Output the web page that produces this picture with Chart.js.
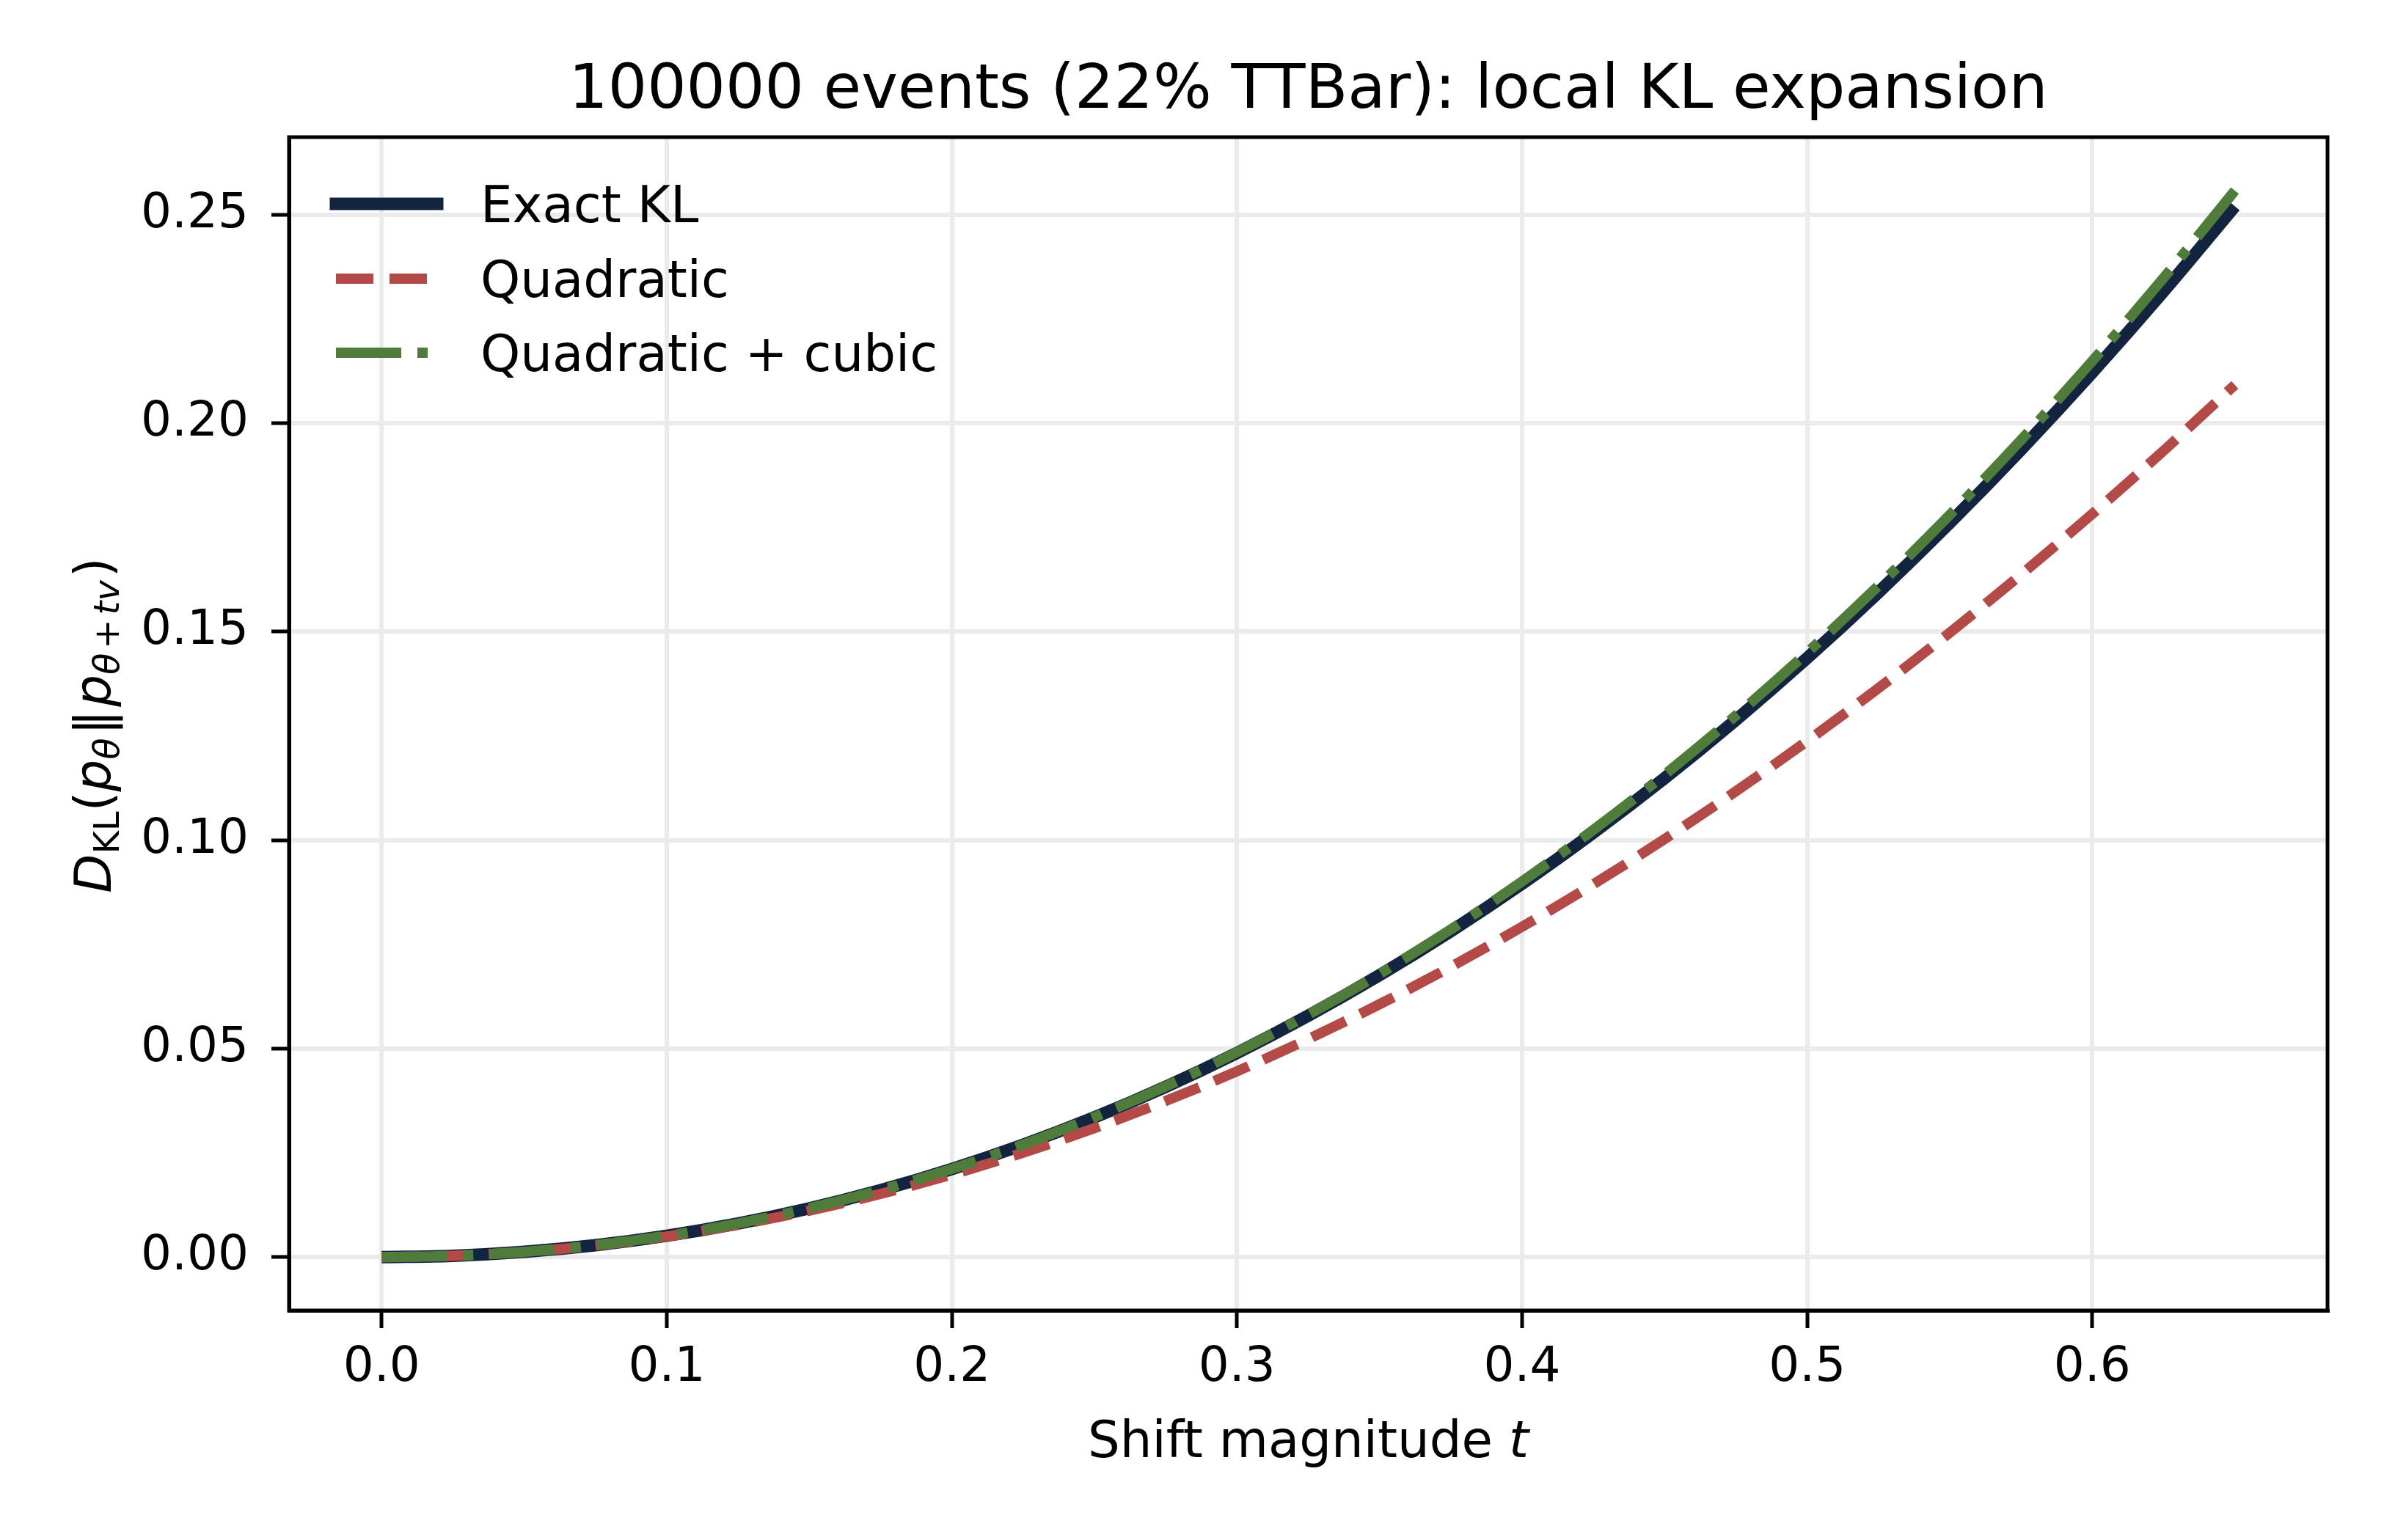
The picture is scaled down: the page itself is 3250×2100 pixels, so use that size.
<!DOCTYPE html>
<html>
<head>
<meta charset="utf-8">
<script src="https://cdn.jsdelivr.net/npm/chart.js@4.4.1/dist/chart.umd.min.js"></script>
<style>
  body { margin: 0; background: #fff; }
  canvas { display: block; }
</style>
</head>
<body>
<canvas id="myChart" width="3250" height="2100"></canvas>
<script>
// values
const shiftT = [0, 0.025, 0.05, 0.075, 0.1, 0.125, 0.15, 0.175, 0.2, 0.225, 0.25, 0.275, 0.3, 0.325,
    0.35, 0.375, 0.4, 0.425, 0.45, 0.475, 0.5, 0.525, 0.55, 0.575, 0.6, 0.625, 0.65];
const exactKL = [0, 0.00031, 0.00126, 0.00285, 0.00512, 0.00806, 0.0117, 0.01605, 0.02113, 0.02694,
    0.03351, 0.04085, 0.04897, 0.0579, 0.06762, 0.07816, 0.08954, 0.10178, 0.11486, 0.12883, 0.14368,
    0.15943, 0.17608, 0.19366, 0.21218, 0.23163, 0.25203];
const quadratic = [0, 0.00031, 0.00124, 0.00278, 0.00495, 0.00774, 0.01114, 0.01516, 0.0198, 0.02506,
    0.03094, 0.03744, 0.04456, 0.0523, 0.06065, 0.06962, 0.07922, 0.08943, 0.10026, 0.11171, 0.12378,
    0.13646, 0.14977, 0.16369, 0.17824, 0.1934, 0.20918];
const quadCubic = [0, 0.00031, 0.00126, 0.00285, 0.00512, 0.00807, 0.01171, 0.01607, 0.02116, 0.02699,
    0.03359, 0.04097, 0.04914, 0.05813, 0.06793, 0.07857, 0.09008, 0.10246, 0.11572, 0.1299, 0.14499,
    0.16102, 0.178, 0.19595, 0.2149, 0.23483, 0.25578];
const seriesLabels = ['Exact KL', 'Quadratic', 'Quadratic + cubic'];
const xTicks = [0, 0.1, 0.2, 0.3, 0.4, 0.5, 0.6];
const yTicks = [0, 0.05, 0.1, 0.15, 0.2, 0.25];
const xRange = [-0.0325, 0.6825];
const yRange = [-0.0128, 0.2686];
const titleText = '100000 events (22% TTBar): local KL expansion';

const FONT = '"DejaVu Sans", sans-serif';

function toPoints(ys) {
    return shiftT.map((t, i) => ({ x: t, y: ys[i] }));
}

// title, axis titles, legend and the frame
const decorations = {
    id: 'decorations',
    afterDraw(chart) {
        const ctx = chart.ctx;
        const area = chart.chartArea;
        ctx.save();

        ctx.strokeStyle = '#000';
        ctx.lineWidth = 5;
        ctx.strokeRect(area.left, area.top, area.right - area.left, area.bottom - area.top);

        ctx.fillStyle = '#000';
        ctx.textBaseline = 'alphabetic';
        ctx.textAlign = 'center';
        ctx.font = '84px ' + FONT;
        const cx = (area.left + area.right) / 2;
        ctx.fillText(titleText, cx, 147);

        // x axis title
        ctx.textAlign = 'left';
        ctx.font = '69px ' + FONT;
        const p1 = 'Shift magnitude ';
        const w1 = ctx.measureText(p1).width;
        ctx.font = 'italic 69px ' + FONT;
        const w2 = ctx.measureText('t').width;
        let x0 = cx - (w1 + w2) / 2;
        ctx.font = '69px ' + FONT;
        ctx.fillText(p1, x0, 1987);
        ctx.font = 'italic 69px ' + FONT;
        ctx.fillText('t', x0 + w1, 1987);

        // y axis title
        const parts = [
            { t: 'D', it: true, s: 1, dy: 0 },
            { t: 'KL', it: false, s: 0.7, dy: 11 },
            { t: '(', it: false, s: 1, dy: 0 },
            { t: 'p', it: true, s: 1, dy: 0 },
            { t: 'θ', it: true, s: 0.7, dy: 11 },
            { t: '‖', it: false, s: 1, dy: 0, gap: 4 },
            { t: 'p', it: true, s: 1, dy: 0 },
            { t: 'θ', it: true, s: 0.7, dy: 11 },
            { t: '+', it: false, s: 0.7, dy: 11, gap: 6 },
            { t: 't', it: true, s: 0.7, dy: 11 },
            { t: 'v', it: true, s: 0.7, dy: 11 },
            { t: ')', it: false, s: 1, dy: 0, gap: 4 }
        ];
        const fontOf = p => (p.it ? 'italic ' : '') + Math.round(69 * p.s) + 'px ' + FONT;
        let total = 0;
        parts.forEach(p => {
            ctx.font = fontOf(p);
            p.w = ctx.measureText(p.t).width + 2 * (p.gap || 0);
            total += p.w;
        });
        ctx.translate(151, (area.top + area.bottom) / 2);
        ctx.rotate(-Math.PI / 2);
        let px = -total / 2;
        parts.forEach(p => {
            ctx.font = fontOf(p);
            ctx.fillText(p.t, px + (p.gap || 0), p.dy);
            px += p.w;
        });
        ctx.setTransform(1, 0, 0, 1, 0, 0);

        // legend
        const rowY = [278, 380, 481];
        chart.data.datasets.forEach((ds, i) => {
            const y = rowY[i];
            ctx.strokeStyle = ds.borderColor;
            ctx.lineWidth = ds.borderWidth;
            ctx.setLineDash(ds.borderDash || []);
            ctx.lineCap = ds.borderDash ? 'butt' : 'square';
            ctx.beginPath();
            ctx.moveTo(458, y);
            ctx.lineTo(596, y);
            ctx.stroke();
            ctx.setLineDash([]);
            ctx.fillStyle = '#000';
            ctx.font = '69px ' + FONT;
            ctx.textAlign = 'left';
            ctx.fillText(ds.label, 655, y + 25);
        });
        ctx.restore();
    }
};

const ctx = document.getElementById('myChart').getContext('2d');
const chart = new Chart(ctx, {
    type: 'line',
    data: {
        datasets: [
            {
                label: seriesLabels[0],
                data: toPoints(exactKL),
                borderColor: '#12243f',
                borderWidth: 17,
                order: 3
            },
            {
                label: seriesLabels[1],
                data: toPoints(quadratic),
                borderColor: '#b44a48',
                borderWidth: 14,
                borderDash: [51, 22],
                order: 2
            },
            {
                label: seriesLabels[2],
                data: toPoints(quadCubic),
                borderColor: '#507c3b',
                borderWidth: 14,
                borderDash: [89, 22, 14, 22],
                order: 1
            }
        ]
    },
    options: {
        responsive: false,
        devicePixelRatio: 1,
        animation: false,
        layout: { padding: { left: 0, top: 187, right: 77, bottom: 0 } },
        elements: {
            point: { radius: 0 },
            line: { cubicInterpolationMode: 'monotone', borderJoinStyle: 'round', fill: false }
        },
        plugins: {
            legend: { display: false },
            title: { display: false },
            tooltip: { enabled: false }
        },
        scales: {
            x: {
                type: 'linear',
                min: xRange[0],
                max: xRange[1],
                afterFit(scale) { scale.height = 313; },
                afterBuildTicks(scale) { scale.ticks = xTicks.map(v => ({ value: v })); },
                grid: { color: '#ebebeb', lineWidth: 6, tickColor: '#000', tickWidth: 5, tickLength: 24 },
                border: { display: true, color: '#000', width: 5 },
                ticks: {
                    color: '#000',
                    font: { family: 'DejaVu Sans', size: 66 },
                    padding: 15,
                    maxRotation: 0,
                    callback: v => v.toFixed(1)
                }
            },
            y: {
                type: 'linear',
                min: yRange[0],
                max: yRange[1],
                afterFit(scale) { scale.width = 394; },
                afterBuildTicks(scale) { scale.ticks = yTicks.map(v => ({ value: v })); },
                grid: { color: '#ebebeb', lineWidth: 6, tickColor: '#000', tickWidth: 5, tickLength: 24 },
                border: { display: true, color: '#000', width: 5 },
                ticks: {
                    color: '#000',
                    font: { family: 'DejaVu Sans', size: 66 },
                    padding: 31,
                    callback: v => v.toFixed(2)
                }
            }
        }
    },
    plugins: [decorations]
});
</script>
</body>
</html>
